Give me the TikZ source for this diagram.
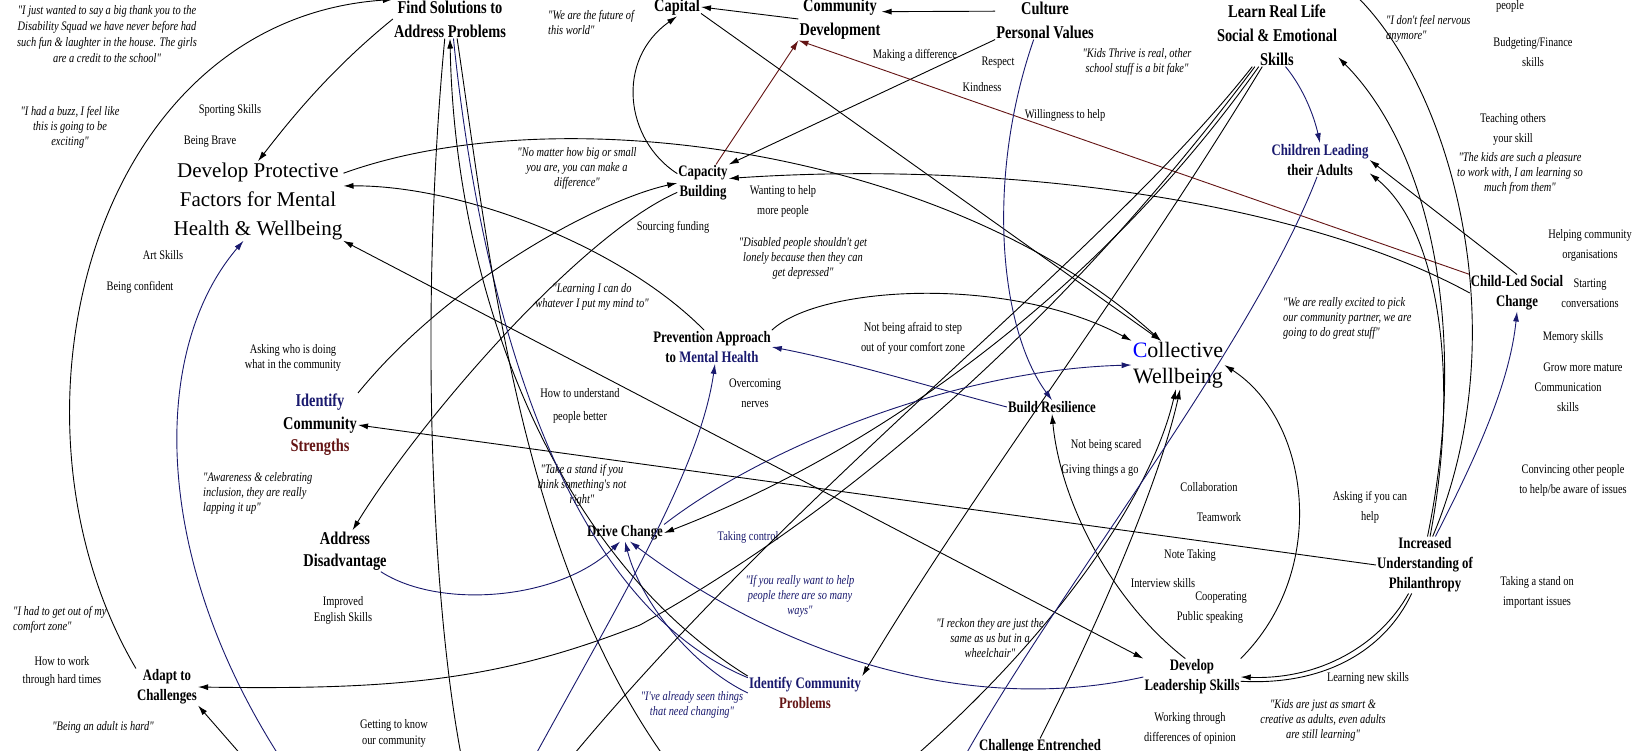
\documentclass[tikz,border=0pt]{standalone}
\usepackage{fontspec}
\setmainfont{Liberation Serif}
\newfontfamily\nf{Liberation Serif}[FakeStretch=0.8]
\usetikzlibrary{arrows.meta}
\definecolor{navy}{RGB}{25,25,110}
\definecolor{dred}{RGB}{100,20,20}
\begin{document}
\begin{tikzpicture}[x=1pt,y=-1pt,
  sm/.style={font=\nf\fontsize{13}{20}\selectfont, align=center, inner sep=0pt},
  qt/.style={font=\nf\itshape\fontsize{13}{15}\selectfont, align=center, inner sep=0pt},
  bn/.style={font=\nf\bfseries\fontsize{16}{20}\selectfont, align=center, inner sep=1pt},
  bm/.style={font=\nf\bfseries\fontsize{18}{22.5}\selectfont, align=center, inner sep=1pt},
  bb/.style={font=\nf\bfseries\fontsize{18}{24}\selectfont, align=center, inner sep=1pt},
  big/.style={font=\fontsize{21}{29}\selectfont, align=center, inner sep=1pt},
  big2/.style={font=\fontsize{22}{26}\selectfont, align=center, inner sep=1pt},
  ln/.style={draw=black, line width=0.9pt},
  ar/.style={ln, -{Latex[length=10pt,width=6pt]}},
  ar2/.style={ln, {Latex[length=10pt,width=6pt]}-{Latex[length=10pt,width=6pt]}}]
\useasboundingbox (0,0) rectangle (1648,751);
\clip (0,0) rectangle (1648,751);
\fill[white] (0,0) rectangle (1648,751);

% ---------- main nodes ----------
\node[bb] (fs) at (450,19) {Find Solutions to\\Address Problems};
\node[bb] (cap) at (677,7) {Capital};
\node[bb] (cd) at (840,19) {Community\\Development};
\node[bb] (pv) at (1045,20) {Culture\\Personal Values};
\node[bb] (lr) at (1277,35) {Learn Real Life\\Social \& Emotional\\Skills};
\node[big] (dp) at (258,201) {Develop Protective\\Factors for Mental\\Health \& Wellbeing};
\node[big2,text=black] (cw) at (1178,365) {\textcolor{blue}{C}ollective\\Wellbeing};
\node[bn] (cb) at (703,183) {Capacity\\Building};
\node[bn] (cla) at (1320,160) {\textcolor{navy}{Children Leading}\\their Adults};
\node[bn] (cl) at (1517,293) {Child-Led Social\\Change};
\node[bn] (pa) at (712,347) {Prevention Approach\\to \textcolor{navy}{Mental Health}};
\node[bn] (br) at (1052,407) {Build Resilience};
\node[bn] (dc) at (625,533) {Drive Change};
\node[bn] (iu) at (1425,565) {Increased\\Understanding of\\Philanthropy};
\node[bn] (dl) at (1192,677) {Develop\\Leadership Skills};
\node[bn] (ac) at (167,687) {Adapt to\\Challenges};
\node[bn] (icp) at (805,693) {\textcolor{navy}{Identify Community}\\\textcolor{dred}{Problems}};
\node[bn] (ce) at (1040,747) {Challenge Entrenched};
\node[bm] (ics) at (320,425) {\textcolor{navy}{Identify}\\Community\\\textcolor{dred}{Strengths}};
\node[bm] (ad) at (345,551) {Address\\Disadvantage};

% ---------- small labels ----------
\node[sm] (s1) at (230,110) {Sporting Skills};
\node[sm] (s2) at (210,142) {Being Brave};
\node[sm] (s3) at (163,255) {Art Skills};
\node[sm] (s4) at (140,287) {Being confident};
\node[sm,font=\nf\fontsize{13}{15}\selectfont] (s5) at (293,358) {Asking who is doing\\what in the community};
\node[sm] (s6) at (673,227) {Sourcing funding};
\node[sm] (s7) at (783,201) {Wanting to help\\more people};
\node[sm] (s8) at (915,55) {Making a difference};
\node[sm] (s9) at (998,63) {Respect};
\node[sm] (s10) at (982,87) {Kindness};
\node[sm] (s11) at (1065,115) {Willingness to help};
\node[sm] (s12) at (1510,6) {people};
\node[sm] (s13) at (1533,52) {Budgeting/Finance\\skills};
\node[sm] (s14) at (1513,129) {Teaching others\\your skill};
\node[sm] (s15) at (1590,245) {Helping community\\organisations};
\node[sm] (s16) at (1590,293) {Starting\\conversations};
\node[sm] (s17) at (1573,337) {Memory skills};
\node[sm] (s18) at (1583,367) {Grow more mature};
\node[sm] (s19) at (1568,397) {Communication\\skills};
\node[sm] (s20) at (1573,480) {Convincing other people\\to help/be aware of issues};
\node[sm] (s21) at (913,338) {Not being afraid to step\\out of your comfort zone};
\node[sm] (s22) at (755,393) {Overcoming\\nerves};
\node[sm,font=\nf\fontsize{13}{23}\selectfont] (s23) at (580,406) {How to understand\\people better};
\node[sm] (s24) at (1106,445) {Not being scared};
\node[sm] (s25) at (1100,470) {Giving things a go};
\node[sm] (s26) at (1209,487) {Collaboration};
\node[sm] (s27) at (1219,517) {Teamwork};
\node[sm] (s28) at (1190,555) {Note Taking};
\node[sm] (s29) at (1163,583) {Interview skills};
\node[sm] (s30) at (1221,598) {Cooperating};
\node[sm] (s31) at (1210,617) {Public speaking};
\node[sm] (s32) at (1370,507) {Asking if you can\\help};
\node[sm] (s33) at (1537,592) {Taking a stand on\\important issues};
\node[sm] (s34) at (1368,678) {Learning new skills};
\node[sm] (s35) at (1190,728) {Working through\\differences of opinion};
\node[sm,text=navy] (s36) at (748,537) {Taking control};
\node[sm,font=\nf\fontsize{13}{16}\selectfont] (s37) at (343,610) {Improved\\English Skills};
\node[sm,font=\nf\fontsize{13}{18}\selectfont] (s38) at (62,671) {How to work\\through hard times};
\node[sm,font=\nf\fontsize{13}{16}\selectfont] (s39) at (394,733) {Getting to know\\our community};

% ---------- quotes ----------
\node[qt,font=\nf\itshape\fontsize{13}{16}\selectfont] (q1) at (107,34) {"I just wanted to say a big thank you to the\\Disability Squad we have never before had\\such fun \& laughter in the house. The girls\\are a credit to the school"};
\node[qt] (q2) at (70,127) {"I had a buzz, I feel like\\this is going to be\\exciting"};
\node[qt,align=left,anchor=west] (q3) at (548,22) {"We are the future of\\this world"};
\node[qt] (q4) at (577,168) {"No matter how big or small\\you are, you can make a\\difference"};
\node[qt] (q5) at (803,258) {"Disabled people shouldn't get\\lonely because then they can\\get depressed"};
\node[qt] (q6) at (1137,62) {"Kids Thrive is real, other\\school stuff is a bit fake"};
\node[qt,align=left,anchor=west] (q7) at (1386,29) {"I don't feel nervous\\anymore"};
\node[qt] (q8) at (1520,173) {"The kids are such a pleasure\\to work with, I am learning so\\much from them"};
\node[qt] (q9) at (592,297) {"Learning I can do\\whatever I put my mind to"};
\node[qt,align=left,anchor=west] (q10) at (1283,318) {"We are really excited to pick\\our community partner, we are\\going to do great stuff"};
\node[qt,align=left,anchor=west] (q11) at (203,493) {"Awareness \& celebrating\\inclusion, they are really\\lapping it up"};
\node[qt] (q12) at (582,485) {"Take a stand if you\\think something's not\\right"};
\node[qt,text=navy] (q13) at (800,596) {"If you really want to help\\people there are so many\\ways"};
\node[qt] (q14) at (990,638) {"I reckon they are just the\\same as us but in a\\wheelchair"};
\node[qt,text=navy] (q15) at (692,705) {"I've already seen things\\that need changing"};
\node[qt] (q16) at (1323,720) {"Kids are just as smart \&\\creative as adults, even adults\\are still learning"};
\node[qt,align=left,anchor=west] (q17) at (13,620) {"I had to get out of my\\comfort zone"};
\node[qt] (q18) at (103,727) {"Being an adult is hard"};

% ---------- free ends ----------
\coordinate (bdp) at (285,765);
\coordinate (bac) at (250,765);
\coordinate (bcw) at (905,765);
\coordinate (tiu) at (1350,-10);
\coordinate (bcla) at (960,765);
\coordinate (bf1) at (463,765);
\coordinate (bf2) at (670,765);
\coordinate (bpa) at (530,765);
\coordinate (bl5) at (565,765);

% ---------- connectors ----------
\draw[ar] (pv.170) -- (cd.10);
\draw[ar] (cd.west) -- (cap.east);
\draw[ar,dred] (cb.55) -- (cd.south west);
\draw[ar] (cb.160) .. controls (625,140) and (615,60) .. (cap.south);
\draw[ar] (cap.-15) -- (cw.125);
\draw[ar] (dp.18) .. controls (560,95) and (950,150) .. (cw.125);
\draw[ar] (pa.north east) .. controls (820,285) and (1010,275) .. (cw.north west);
\draw[ar] (pv.south west) -- (cb.north east);
\draw[ar] (cl.west) .. controls (1300,200) and (1000,160) .. (cb.10);
\draw[ar,dred] (cl.north west) -- (cd.south west);
\draw[ar] (fs.west) .. controls (330,70) and (290,120) .. (dp.north);
\draw[ar] (ac.north west) .. controls (-10,420) and (90,20) .. (fs.north west);
\draw[ar,navy] (bdp) .. controls (150,560) and (150,350) .. (dp.250);
\draw[ar] (bac) -- (ac.south east);
\draw[ar] (lr.235) .. controls (1110,260) and (900,480) .. (640,625) .. controls (500,680) and (400,690) .. (ac.east);
\draw[ar] (lr.240) .. controls (1100,290) and (880,450) .. (dc.east);
\draw[ar] (lr.245) .. controls (1120,300) and (980,480) .. (icp.north east);
\draw[ar,navy] (dc.north east) .. controls (760,450) and (950,370) .. (cw.west);
\draw[ar] (pa.115) .. controls (620,245) and (460,185) .. (dp.10);
\draw[ar2] (dl.north west) -- (dp.-25);
\draw[ar,navy] (br.west) .. controls (930,387) and (850,362) .. (pa.east);
\draw[ar,navy] (pv.-120) .. controls (985,180) and (1000,330) .. (br.north);
\draw[ar] (dl.110) .. controls (1110,600) and (1060,500) .. (br.south);
\draw[ar] (dl.north east) .. controls (1330,570) and (1310,420) .. (cw.east);
\draw[ar] (ce.north) .. controls (1100,620) and (1160,480) .. (cw.-85);
\draw[ar] (bcw) .. controls (1050,640) and (1150,500) .. (cw.-95);
\draw[ar] (iu.west) -- (ics.east);
\draw[ar] (iu.-120) .. controls (1380,645) and (1320,680) .. (dl.east);
\draw[ln] (iu.-115) .. controls (1385,650) and (1325,686) .. (dl.-5);
\draw[ar,navy] (iu.70) .. controls (1480,450) and (1510,380) .. (cl.south);
\draw[ar] (iu.80) .. controls (1460,380) and (1440,230) .. (cla.-15);
\draw[ar] (iu.85) .. controls (1470,330) and (1430,150) .. (lr.-20);
\draw[ln] (tiu) .. controls (1450,80) and (1520,330) .. (iu.75);
\draw[ar] (cl.north) -- (cla.east);
\draw[ar,navy] (lr.-75) .. controls (1305,90) and (1315,120) .. (cla.north);
\draw[ln,navy] (cla.-100) .. controls (1250,350) and (1050,600) .. (bcla);
\draw[ar] (ics.north east) .. controls (450,280) and (600,200) .. (cb.west);
\draw[ar] (cb.200) .. controls (580,235) and (420,420) .. (ad.70);
\draw[ar,navy] (ad.-30) .. controls (440,610) and (560,600) .. (dc.-120);
\draw[ar,navy] (icp.west) .. controls (690,665) and (640,600) .. (dc.-90);
\draw[ar,navy] (dl.west) .. controls (950,720) and (760,640) .. (dc.-60);
\draw[ln] (fs.-105) .. controls (420,300) and (430,600) .. (bf1);
\draw[ar] (icp.north west) .. controls (560,560) and (455,300) .. (fs.-90);
\draw[ln,navy] (fs.-80) .. controls (480,300) and (560,600) .. (icp.165);
\draw[ln] (fs.-70) .. controls (490,260) and (520,560) .. (bf2);
\draw[ar,navy] (bpa) .. controls (620,600) and (700,470) .. (pa.-80);
\draw[ln] (bl5) .. controls (800,480) and (1100,260) .. (lr.232);
\end{tikzpicture}
\end{document}
